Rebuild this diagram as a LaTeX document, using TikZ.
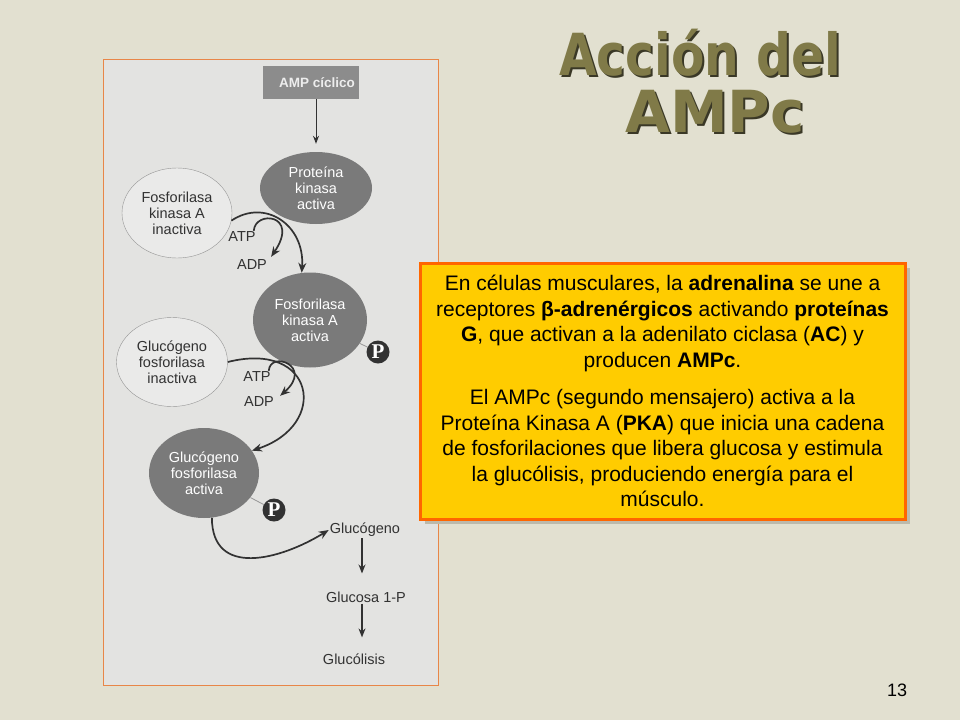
\documentclass[tikz,border=0pt]{standalone}
\usepackage{fontspec}
\usepackage{graphicx}
\setmainfont{Liberation Sans}
\newfontfamily\titlefont{DejaVu Sans}
\newfontfamily\serifP{Liberation Serif}
\usetikzlibrary{shapes.geometric,arrows.meta}

\definecolor{fondo}{RGB}{226,224,208}
\definecolor{panel}{RGB}{227,227,225}
\definecolor{naranja}{RGB}{232,134,72}
\definecolor{naranjacaja}{RGB}{255,102,0}
\definecolor{amarillo}{RGB}{255,204,0}
\definecolor{sombra}{RGB}{188,186,172}
\definecolor{oliva}{RGB}{128,122,72}
\definecolor{olivaoscura}{RGB}{58,56,38}
\definecolor{gris}{RGB}{122,122,122}
\definecolor{grisamp}{RGB}{140,140,140}
\definecolor{claro}{RGB}{234,234,233}
\definecolor{borde}{RGB}{150,150,150}
\definecolor{texto}{RGB}{50,50,50}

\begin{document}
\begin{tikzpicture}[x=1pt,y=-1pt,
  oscura/.style={ellipse,fill=gris,text=white,inner sep=0pt,align=center,font=\fontsize{14.5}{16}\selectfont},
  clara/.style={ellipse,draw=borde,fill=claro,text=texto,inner sep=0pt,align=center,font=\fontsize{14.5}{16}\selectfont},
  etiqueta/.style={text=texto,inner sep=1pt,font=\fontsize{14.5}{16}\selectfont},
  flecha/.style={draw=texto,line width=1.7pt,-{Stealth[length=10pt,width=8pt]}},
  recta/.style={draw=texto,line width=1.3pt,-{Stealth[length=9pt,width=7pt]}},
  fosfato/.style={circle,fill=texto,text=white,inner sep=0pt,minimum size=23pt,font=\serifP\bfseries\fontsize{21}{21}\selectfont},
  titulo/.style={anchor=base,align=center,inner sep=0pt,font=\titlefont\bfseries\fontsize{58}{57}\selectfont}]

% fondo y marco de la figura
\fill[fondo] (0,0) rectangle (960,720);
\useasboundingbox (0,0) rectangle (960,720);
\draw[naranja,fill=panel,line width=1pt] (103,59) rectangle (438,685);

% titulo con sombra
\node[titulo,text=olivaoscura] (sombratitulo) at (702,134) {\scalebox{0.84}[1]{Acción del}\\\hspace*{30pt}AMPc};
\node[titulo,text=oliva] (titulo) at (700,132) {\scalebox{0.84}[1]{Acción del}\\\hspace*{30pt}AMPc};

% cascada
\node[fill=grisamp,text=white!93!black,minimum width=96pt,minimum height=33pt,inner sep=0pt,font=\bfseries\fontsize{13.5}{14}\selectfont] (amp) at (311,82.5) {\hspace*{12pt}AMP cíclico};
\node[oscura,minimum width=112pt,minimum height=72pt] (pka) at (316,188) {Proteína\\kinasa\\activa};
\node[clara,minimum width=110pt,minimum height=90pt] (fkin) at (177,213) {Fosforilasa\\kinasa A\\inactiva};
\node[oscura,minimum width=114pt,minimum height=95pt] (fka) at (310,320) {Fosforilasa\\kinasa A\\activa};
\node[clara,minimum width=111pt,minimum height=89pt] (gfin) at (172,362) {Glucógeno\\fosforilasa\\inactiva};
\node[oscura,minimum width=110pt,minimum height=90pt] (gfa) at (204,473) {Glucógeno\\fosforilasa\\activa};

\node[etiqueta] (atp1) at (242,237) {ATP};
\node[etiqueta] (adp1) at (252,265) {ADP};
\node[etiqueta] (atp2) at (257,377) {ATP};
\node[etiqueta] (adp2) at (259,402) {ADP};

\node[fosfato] (p1) at (378,352) {P};
\node[fosfato] (p2) at (274,510) {P};
\draw[borde,line width=0.8pt] (fka) -- (p1);
\draw[borde,line width=0.8pt] (gfa) -- (p2);

\node[etiqueta] (glucogeno) at (365,530) {Glucógeno};
\node[etiqueta] (glucosa) at (366,597) {Glucosa 1-P};
\node[etiqueta] (glucolisis) at (354,659) {Glucólisis};
\coordinate (eje) at (362,0);

\draw[draw=texto,line width=1pt,-{Stealth[length=8pt,width=6pt]},shorten >=8pt] (amp.south -| pka.north) -- (pka.north);
\draw[flecha] (fkin.-8) .. controls (265,198) and (305,225) .. (fka.100);
\draw[flecha] ([xshift=-3pt]atp1.north east) .. controls (255,210) and (300,214) .. ([shift={(3,-2)}]adp1.north east);
\draw[flecha] (gfin.east) .. controls (315,340) and (330,425) .. (gfa.25);
\draw[flecha] ([xshift=-3pt]atp2.north east) .. controls (270,350) and (314,366) .. ([shift={(5,0)}]adp2.north east);
\draw[flecha] (gfa.-80) .. controls (212,578) and (280,560) .. (glucogeno.west);
\draw[recta,shorten >=17pt] (eje |- glucogeno.south) -- (eje |- glucosa.north);
\draw[recta,shorten >=15pt] (eje |- glucosa.south) -- (eje |- glucolisis.north);

% cuadro de texto
\fill[sombra] (425,268) rectangle (910,524);
\node[draw=naranjacaja,line width=3pt,fill=amarillo,minimum width=485pt,minimum height=256pt,align=center,font=\fontsize{21}{25.5}\selectfont] (caja) at (662.5,391) {En células musculares, la \textbf{adrenalina} se une a\\
receptores \textbf{β-adrenérgicos} activando \textbf{proteínas}\\
\textbf{G}, que activan a la adenilato ciclasa (\textbf{AC}) y\\
producen \textbf{AMPc}.\\[12pt]
El AMPc (segundo mensajero) activa a la\\
Proteína Kinasa A (\textbf{PKA}) que inicia una cadena\\
de fosforilaciones que libera glucosa y estimula\\
la glucólisis, produciendo energía para el\\
músculo.};

\node[font=\fontsize{18}{18}\selectfont] (pagina) at (897,690) {13};
\end{tikzpicture}
\end{document}
